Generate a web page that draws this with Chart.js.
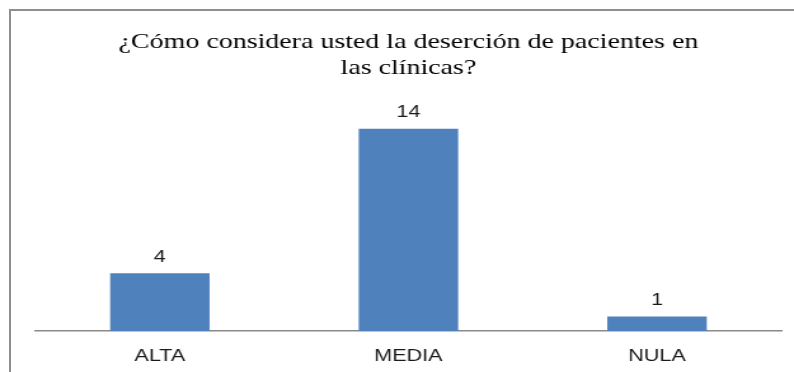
<!DOCTYPE html>
<html>
<head>
<meta charset="utf-8">
<script src="https://cdn.jsdelivr.net/npm/chart.js@4/dist/chart.umd.min.js"></script>
<style>
  html, body { margin: 0; padding: 0; background: #ffffff; }
  #wrap { position: relative; width: 794px; height: 372px; overflow: hidden; }
  #frame {
    position: absolute; left: 9px; top: 9px; width: 800px; height: 400px;
    border-top: 2px solid #8e8e8e; border-left: 2px solid #8e8e8e;
    box-sizing: border-box;
  }
  #chart { position: absolute; left: 0; top: 0; }
</style>
</head>
<body>
<div id="wrap">
  <div id="frame"></div>
  <!-- the drawing surface is laid out narrower and widened to the page width -->
  <canvas id="chart" width="625" height="372" style="width: 794px; height: 372px;"></canvas>
</div>
<script>
// Survey answers: perceived patient dropout at the clinics
const categories = ['ALTA', 'MEDIA', 'NULA'];
const respuestas = [4, 14, 1];
const titleLines = ['¿Cómo considera usted la deserción de pacientes en', 'las clínicas?'];

const barColor = '#4f81bd';
const axisColor = '#8a8a8a';
const labelFont = "'Liberation Sans', Arial, sans-serif";

// Writes each bar's value centred above it
const valueLabels = {
  id: 'valueLabels',
  afterDatasetsDraw(chart) {
    const ctx = chart.ctx;
    ctx.save();
    ctx.font = '17px ' + labelFont;
    ctx.fillStyle = '#1a1a1a';
    ctx.textAlign = 'center';
    ctx.textBaseline = 'middle';
    chart.data.datasets.forEach((ds, di) => {
      chart.getDatasetMeta(di).data.forEach((bar, i) => {
        ctx.fillText(String(ds.data[i]), bar.x, bar.y - 16);
      });
    });
    ctx.restore();
  }
};

new Chart(document.getElementById('chart'), {
  type: 'bar',
  data: {
    labels: categories,
    datasets: [{
      data: respuestas,
      backgroundColor: barColor,
      borderWidth: 0,
      categoryPercentage: 1.0,
      barPercentage: 0.4
    }]
  },
  options: {
    responsive: false,
    animation: false,
    devicePixelRatio: 1,
    layout: { padding: { left: 28, right: 10, top: 0, bottom: 0 } },
    plugins: {
      legend: { display: false },
      tooltip: { enabled: false },
      title: {
        display: true,
        text: titleLines,
        color: '#000000',
        font: { family: "'Liberation Serif', 'Times New Roman', serif", size: 22, weight: 'normal', lineHeight: 1.18 },
        padding: { top: 29, bottom: 19 }
      }
    },
    scales: {
      x: {
        grid: { display: false, drawTicks: false },
        border: { display: true, color: axisColor, width: 1.5 },
        ticks: { color: '#1a1a1a', font: { family: labelFont, size: 17 }, padding: 15 },
        afterFit(scale) { scale.height = 41; }
      },
      y: {
        display: false,
        min: 0,
        max: 16
      }
    }
  },
  plugins: [valueLabels]
});
</script>
</body>
</html>
